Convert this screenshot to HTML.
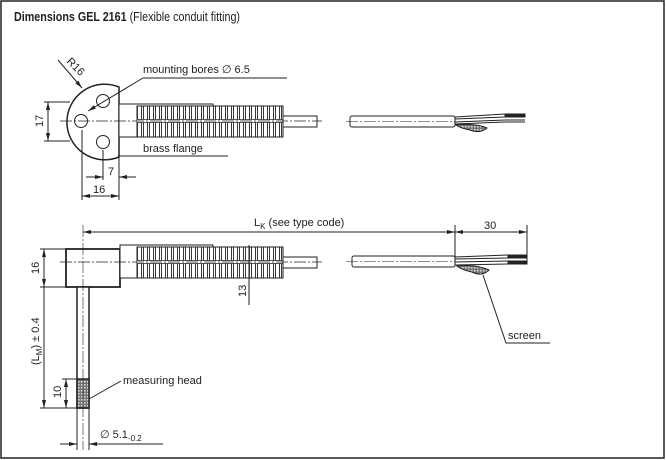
<!DOCTYPE html>
<html><head><meta charset="utf-8"><style>
html,body{margin:0;padding:0;background:#fff}
svg{display:block}
text{font-family:"Liberation Sans",sans-serif;fill:#222}
</style></head><body>
<svg width="666" height="460" viewBox="0 0 666 460" xmlns="http://www.w3.org/2000/svg">
<defs>
<pattern id="rib" x="137" y="0" width="6" height="10" patternUnits="userSpaceOnUse">
<rect x="0" y="0" width="6" height="10" fill="#fff"/>
<rect x="0" y="0" width="0.9" height="10" fill="#222"/>
<rect x="4" y="0" width="0.9" height="10" fill="#222"/>
</pattern>
<pattern id="hatch" width="3" height="3" patternUnits="userSpaceOnUse">
<rect width="3" height="3" fill="#777"/><rect width="1.5" height="1.5" fill="#ddd"/>
</pattern>
<marker id="a" markerWidth="8" markerHeight="6" refX="8" refY="3" orient="auto-start-reverse" markerUnits="userSpaceOnUse"><path d="M0,1 L8,3 L0,5z" fill="#222"/></marker>
</defs>
<rect x="1" y="1" width="663" height="457" fill="none" stroke="#222" stroke-width="1.5"/>
<text x="14" y="21" font-size="13" textLength="226" lengthAdjust="spacingAndGlyphs"><tspan font-weight="bold">Dimensions GEL 2161</tspan> (Flexible conduit fitting)</text>

<g stroke="#222" fill="none" stroke-width="1">
<path d="M119,87 A37.8,37.8 0 1 0 119,157 Z" fill="#fff" stroke-width="1.5"/>
<circle cx="103" cy="101" r="6.5"/><circle cx="81" cy="121" r="6.5"/><circle cx="103" cy="142" r="6.5"/>
<rect x="119" y="104" width="94" height="33" fill="#fff"/>
<rect x="137" y="106" width="146" height="31" fill="url(#rib)"/>
<rect x="137" y="106" width="146" height="31"/>
<line x1="137" y1="121" x2="283" y2="121" stroke="#fff" stroke-width="3"/>
<line x1="137" y1="119.5" x2="283" y2="119.5" stroke-width="0.8"/>
<line x1="137" y1="122.5" x2="283" y2="122.5" stroke-width="0.8"/>
<rect x="283" y="116" width="34" height="11" fill="#fff"/>
<line x1="60" y1="121" x2="322" y2="121" stroke-dasharray="12,2,2,2" stroke-width="0.7"/>
<line x1="58" y1="60" x2="82" y2="88" marker-end="url(#a)"/>
<line x1="88" y1="111" x2="143" y2="78" marker-start="url(#a)"/>
<line x1="143" y1="78" x2="287" y2="78"/>
<line x1="118" y1="156" x2="228" y2="156"/>
<line x1="44" y1="102" x2="70" y2="102"/><line x1="44" y1="141" x2="70" y2="141"/>
<line x1="48" y1="102" x2="48" y2="141" marker-start="url(#a)" marker-end="url(#a)"/>
<line x1="82" y1="130" x2="82" y2="200"/><line x1="119" y1="150" x2="119" y2="200"/><line x1="103" y1="150" x2="103" y2="180"/>
<line x1="86" y1="177" x2="103" y2="177" marker-end="url(#a)"/><line x1="119" y1="177" x2="136" y2="177" marker-start="url(#a)"/>
<line x1="82" y1="196" x2="119" y2="196" marker-start="url(#a)" marker-end="url(#a)"/>
<rect x="350" y="116" width="105" height="11" rx="2" fill="#fff"/>
<line x1="346" y1="121.5" x2="455" y2="121.5" stroke-dasharray="12,2,2,2" stroke-width="0.6"/>
<path d="M455,117 L505,114 L525,114"/><path d="M455,119 L505,117 L525,117"/>
<rect x="505" y="114" width="20" height="3" fill="#222"/>
<path d="M455,122 L505,120 L525,120"/><path d="M455,124 L505,122 L525,122"/>
<path d="M456,125 Q475,123 487,128 Q480,134 470,130 Q460,128 456,125Z" fill="url(#hatch)"/>

<rect x="66" y="249" width="54" height="38" fill="#fff" stroke-width="1.8"/>
<rect x="120" y="245" width="93" height="33" fill="#fff"/>
<rect x="137" y="247" width="146" height="31" fill="url(#rib)"/>
<rect x="137" y="247" width="146" height="31"/>
<line x1="137" y1="262" x2="283" y2="262" stroke="#fff" stroke-width="3"/>
<line x1="137" y1="260.5" x2="283" y2="260.5" stroke-width="0.8"/>
<line x1="137" y1="263.5" x2="283" y2="263.5" stroke-width="0.8"/>
<rect x="283" y="257" width="34" height="11" fill="#fff"/>
<line x1="60" y1="262" x2="322" y2="262" stroke-dasharray="12,2,2,2" stroke-width="0.7"/>
<rect x="77" y="287" width="12" height="121" fill="#fff" stroke-width="1.5"/>
<rect x="77" y="379" width="12" height="29" fill="url(#hatch)" stroke-width="1.5"/>
<line x1="83" y1="225" x2="83" y2="450" stroke-dasharray="12,2,2,2" stroke-width="0.6"/>
<line x1="40" y1="249" x2="66" y2="249"/><line x1="40" y1="287" x2="77" y2="287"/><line x1="40" y1="408" x2="77" y2="408"/>
<line x1="44" y1="249" x2="44" y2="287" marker-start="url(#a)" marker-end="url(#a)"/>
<line x1="44" y1="287" x2="44" y2="408" marker-end="url(#a)"/>
<line x1="62" y1="379" x2="77" y2="379"/>
<line x1="66" y1="379" x2="66" y2="408" marker-start="url(#a)" marker-end="url(#a)"/>
<line x1="83" y1="232" x2="455" y2="232" marker-start="url(#a)" marker-end="url(#a)"/>
<line x1="455" y1="225" x2="455" y2="262"/><line x1="527" y1="225" x2="527" y2="262"/>
<line x1="455" y1="232" x2="527" y2="232" marker-start="url(#a)" marker-end="url(#a)"/>
<line x1="249" y1="245" x2="249" y2="305"/>
<line x1="89" y1="399" x2="121" y2="381"/>
<line x1="77" y1="408" x2="77" y2="450"/><line x1="89" y1="408" x2="89" y2="450"/>
<line x1="60" y1="444" x2="77" y2="444" marker-end="url(#a)"/><line x1="89" y1="444" x2="163" y2="444" marker-start="url(#a)"/>
<rect x="352" y="256" width="103" height="11" rx="2" fill="#fff"/>
<line x1="346" y1="261.5" x2="455" y2="261.5" stroke-dasharray="12,2,2,2" stroke-width="0.6"/>
<path d="M455,257 L508,255 L527,255"/><path d="M455,259 L508,258 L527,258"/>
<rect x="508" y="255" width="19" height="3" fill="#222"/>
<path d="M455,262 L508,261 L527,261"/><path d="M455,265 L508,264 L527,264"/>
<rect x="508" y="261" width="19" height="3" fill="#222"/>
<path d="M457,266 Q476,264 489,270 Q482,277 472,272 Q462,270 457,266Z" fill="url(#hatch)"/>
<path d="M483,275 L506,343 L550,343"/>
</g>

<g font-size="11">
<text x="143" y="73">mounting bores ∅ 6.5</text>
<text x="143" y="152">brass flange</text>
<text x="108" y="175">7</text>
<text x="93" y="193">16</text>
<text transform="translate(43,127) rotate(-90)">17</text>
<text transform="translate(66,62) rotate(45)">R16</text>
<text x="254" y="226">L<tspan font-size="8" dy="3">K</tspan><tspan dy="-3"> (see type code)</tspan></text>
<text x="484" y="229">30</text>
<text transform="translate(39,274) rotate(-90)">16</text>
<text transform="translate(39,365) rotate(-90)">(L<tspan font-size="8" dy="3">M</tspan><tspan dy="-3">) ± 0.4</tspan></text>
<text transform="translate(61,398) rotate(-90)">10</text>
<text transform="translate(246,297) rotate(-90)">13</text>
<text x="123" y="384">measuring head</text>
<text x="100" y="438">∅ 5.1<tspan font-size="8" dy="3">-0.2</tspan></text>
<text x="508" y="339">screen</text>
</g>
</svg>
</body></html>
